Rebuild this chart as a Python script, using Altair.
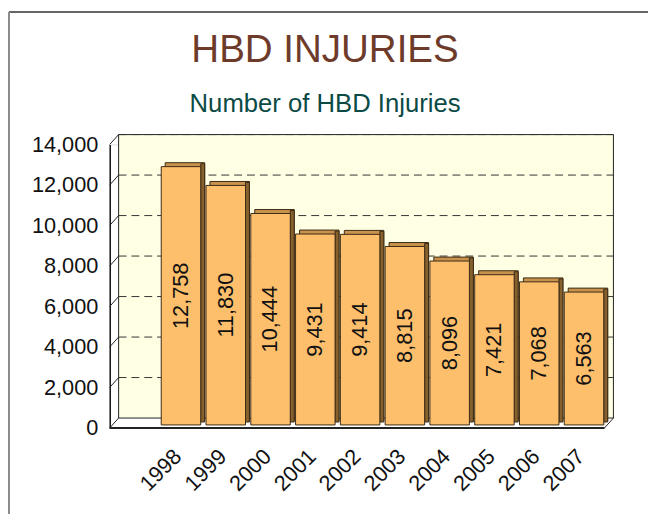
import altair as alt
import pandas as pd

# ---- data ----
years = ["1998", "1999", "2000", "2001", "2002", "2003", "2004", "2005", "2006", "2007"]
injuries = [12758, 11830, 10444, 9431, 9414, 8815, 8096, 7421, 7068, 6563]
y_ticks = [0, 2000, 4000, 6000, 8000, 10000, 12000, 14000]
grid_values = [2000, 4000, 6000, 8000, 10000, 12000, 14000]
title_text = ["HBD INJURIES"]
subtitle_text = ["Number of HBD Injuries"]

# ---- layout / style constants ----
W, H = 501, 287
DX, DY = 9, -10          # depth of the pseudo-3D wall
FONT = "Liberation Sans"

bars_df = pd.DataFrame({"year": years, "value": injuries})
grid_df = pd.DataFrame({"v": grid_values})
tick_df = pd.DataFrame({"v": y_ticks})
one = pd.DataFrame({"k": [0]})

x_scale = alt.Scale(domain=[""] + years, paddingInner=0.118, paddingOuter=0.084)
y_scale = alt.Scale(domain=[0, 14000], nice=False, zero=True)

x_axis = alt.Axis(
    title=None, labelAngle=-45, labelAlign="right", labelBaseline="middle",
    labelFontSize=22, labelFont=FONT, labelColor="#111111",
    ticks=False, domain=False, labelPadding=25, labelOffset=0,
)
y_axis = alt.Axis(
    title=None, values=y_ticks, labelExpr="format(datum.value, ',')",
    labelFontSize=22, labelFont=FONT,
    labelColor="#111111", labelPadding=12, ticks=False, grid=False,
    domain=True, domainColor="#111111", domainWidth=1.5,
)

# back wall
back = alt.Chart(one).mark_rect(fill="#FFFFE4", stroke="#222222", strokeWidth=1).encode(
    x=alt.value(DX), x2=alt.value(W + DX), y=alt.value(DY), y2=alt.value(H + DY)
)

# dashed gridlines on the back wall
grid = alt.Chart(grid_df).mark_rule(
    color="#333333", strokeDash=[8, 5], strokeWidth=1, yOffset=DY
).encode(
    y=alt.Y("v:Q", scale=y_scale, axis=y_axis),
    x=alt.value(DX), x2=alt.value(W + DX),
)

# diagonal ticks on the left wall
diag = alt.Chart(tick_df).mark_rule(color="#222222", strokeWidth=1, y2Offset=DY).encode(
    y=alt.Y("v:Q", scale=y_scale, axis=y_axis),
    y2=alt.Y2("v:Q"),
    x=alt.value(0), x2=alt.value(DX),
)

# floor front edge and right corner
floor_front = alt.Chart(one).mark_rule(color="#222222", strokeWidth=2).encode(
    x=alt.value(0), x2=alt.value(W), y=alt.value(H)
)
floor_corner = alt.Chart(one).mark_rule(color="#222222", strokeWidth=1).encode(
    x=alt.value(W), x2=alt.value(W + DX), y=alt.value(H), y2=alt.value(H + DY)
)

# outer frame of the picture
frame_top = alt.Chart(one).mark_rule(color="#666666", strokeWidth=2).encode(
    x=alt.value(-102), x2=alt.value(W + 60), y=alt.value(-134)
)
frame_left = alt.Chart(one).mark_rule(color="#8A8A8A", strokeWidth=2).encode(
    x=alt.value(-102), y=alt.value(-134), y2=alt.value(H + 90)
)

# titles as text marks
title = alt.Chart(pd.DataFrame({"t": title_text})).mark_text(
    font=FONT, fontSize=39, color="#6E3B2B", align="center", baseline="alphabetic"
).encode(text="t:N", x=alt.value(218), y=alt.value(-83))
subtitle = alt.Chart(pd.DataFrame({"t": subtitle_text})).mark_text(
    font=FONT, fontSize=26, color="#0B4A45", align="center", baseline="alphabetic"
).encode(text="t:N", x=alt.value(218), y=alt.value(-33))

base = alt.Chart(bars_df)
xe = alt.X("year:N", scale=x_scale, sort=None, axis=x_axis)
ye = alt.Y("value:Q", scale=y_scale, axis=y_axis)

# top face (lighter brown) behind the front face
top_face = base.mark_bar(
    fill="#C8924C", stroke="#3B2A14", strokeWidth=1,
    xOffset=7, yOffset=-7, y2Offset=-7,
).encode(x=xe, y=ye)

# right side face (dark brown)
side_face = base.mark_bar(
    fill="#86612E", stroke="#3B2A14", strokeWidth=1, size=4,
    xOffset=25, yOffset=-6, y2Offset=-6,
).encode(x=xe, y=ye)

front = base.mark_bar(
    fill="#FDBF6C", stroke="#3B2A14", strokeWidth=1,
    xOffset=3, yOffset=-3, y2Offset=-3,
).encode(x=xe, y=ye)

labels = base.transform_calculate(half="datum.value / 2").mark_text(
    angle=270, fontSize=22, font=FONT, color="#111111", xOffset=3, yOffset=-3,
    align="center", baseline="middle",
).encode(
    x=xe,
    y=alt.Y("half:Q", scale=y_scale, axis=y_axis),
    text=alt.Text("value:Q", format=","),
)

chart = alt.layer(
    back, grid, diag, floor_front, floor_corner, top_face, side_face, front, labels,
    frame_top, frame_left, title, subtitle
).properties(
    width=W, height=H,
    autosize=alt.AutoSizeParams(type="none"),
    padding={"left": 103, "top": 135, "right": 44, "bottom": 84},
).configure_view(fill="#FFFFE4", stroke=None).configure(background="white")

chart.save("out.html", embed_options={"renderer": "svg", "actions": False})
